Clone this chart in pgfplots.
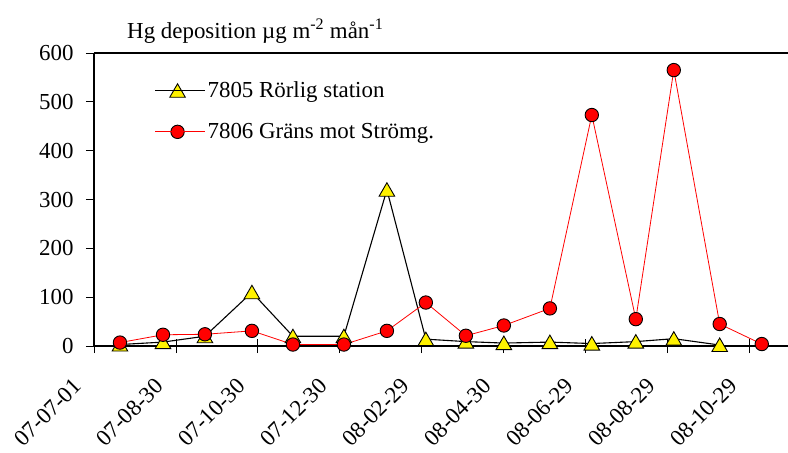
\documentclass[border=0pt]{standalone}
\usepackage{fontspec}
\setmainfont{Liberation Serif}
\usepackage{pgfplots}
\usepackage{pgfplotstable}
\pgfplotsset{compat=1.18}

% x = days after 2007-07-01, y = Hg deposition
\pgfplotstableread{
day val
19.0 3
50.5 8
81.2 20
115.6 110
145.6 20
182.9 20
214.4 320
242.9 14
272.2 9
300.0 6
333.7 8
364.4 5
396.6 9
424.4 15
458.0 2
}\rorlig

\pgfplotstableread{
day val
19.0 7
50.5 23
81.2 24
115.6 31
145.6 3
182.9 3
214.4 31
242.9 89
272.2 21
300.0 42
333.7 77
364.4 473
396.6 55
424.4 565
458.0 45
488.8 4
}\grans

\begin{document}
\begin{tikzpicture}
\begin{axis}[
  name=ax,
  scale only axis,
  width=694bp, height=293bp,
  xmin=0, xmax=508,
  ymin=0, ymax=600,
  clip=false,
  axis x line*=box,
  axis y line*=left,
  xtick pos=left,
  ytick pos=left,
  axis line style={line width=1.1bp, black},
  every tick/.style={black, line width=0.9bp},
  ytick={0,100,...,600},
  ytick align=outside,
  major tick length=8bp,
  xtick=\empty,
  minor xtick={30,90,150,210,270,330,390,450},
  minor tick length=5bp,
  xtick align=outside,
  extra x ticks={0,60,120,180,240,300,360,420,480},
  extra x tick labels={07-07-01,07-08-30,07-10-30,07-12-30,08-02-29,08-04-30,08-06-29,08-08-29,08-10-29},
  extra x tick style={major tick length=14bp, tick align=center},
  /pgf/number format/assume math mode=true,
  tick label style={font=\fontsize{23}{27}\selectfont, black},
  xticklabel style={xshift=-14bp, yshift=-27bp, rotate=45, anchor=east},
  yticklabel style={xshift=-9bp},
  legend style={draw=none, fill=none, at={(rel axis cs:0.084,0.915)}, anchor=north west,
    font=\fontsize{23}{27}\selectfont, row sep=20bp, inner sep=2bp},
  legend cell align=left,
  legend image code/.code={\draw[mark repeat=2,mark phase=2,#1] plot coordinates {(0bp,0bp) (22.5bp,0bp) (45bp,0bp)};
    \path (0bp,0bp) -- (50bp,0bp);},
]
\addplot[black, line width=1.1bp, mark=triangle*, mark size=9bp,
  mark options={fill=yellow, draw=black, line width=0.9bp, yshift=-2bp}]
  table[x=day, y=val] {\rorlig};
\addlegendentry{7805 Rörlig station}
\addplot[red, line width=0.8bp, mark=*, mark size=6.7bp,
  mark options={fill=red, draw=black, line width=0.9bp}]
  table[x=day, y=val] {\grans};
\addlegendentry{7806 Gräns mot Strömg.}
\node[anchor=base west, font=\fontsize{23}{27}\selectfont, inner sep=0pt]
  at (rel axis cs:0.0476,1.051) {Hg deposition µg m\textsuperscript{-2} mån\textsuperscript{-1}};
\end{axis}
\pgfresetboundingbox
\path[use as bounding box] ([xshift=-94bp,yshift=-107bp]ax.south west) rectangle ++(788bp,453bp);
\end{tikzpicture}
\end{document}
